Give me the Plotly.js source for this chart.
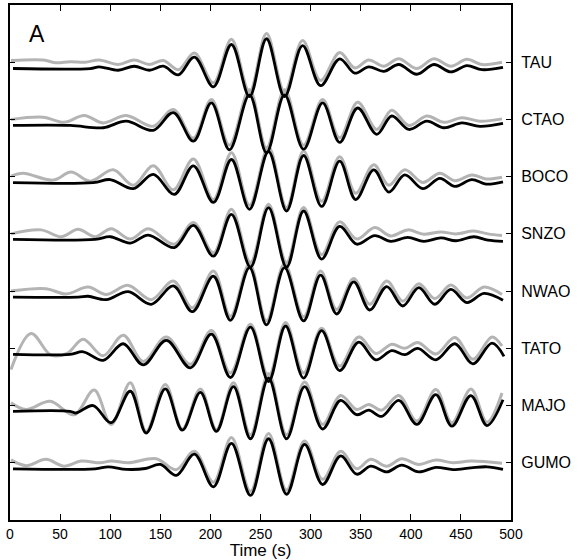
<!DOCTYPE html>
<html>
<head>
<meta charset="utf-8">
<script src="https://cdn.plot.ly/plotly-3.0.1.min.js"></script>
<style>html,body{margin:0;padding:0;background:#fff;}</style>
</head>
<body>
<div id="chart" style="width:581px;height:560px;"></div>
<script>
// Station labels, top to bottom
const stations = ["TAU", "CTAO", "BOCO", "SNZO", "NWAO", "TATO", "MAJO", "GUMO"];
const xTicks = [0, 50, 100, 150, 200, 250, 300, 350, 400, 450, 500];

// Waveform extrema: time (s) and amplitude (trace-spacing units, relative to station tick)
const tauBlackT = [3, 80, 89, 108, 124, 139, 153, 168, 184, 203, 221, 239, 256, 274, 292, 310, 329, 344, 358, 373, 388, 406, 423, 440, 456, 471, 492];
const tauBlackA = [-0.11, -0.11, -0.08, -0.14, -0.07, -0.14, -0.07, -0.22, 0.09, -0.43, 0.31, -0.60, 0.41, -0.60, 0.29, -0.41, 0.06, -0.19, -0.08, -0.16, -0.04, -0.21, -0.04, -0.17, -0.06, -0.13, -0.09];
const tauGrayT = [1, 33, 46, 60, 75, 89, 108, 124, 139, 153, 168, 184, 203, 221, 239, 256, 274, 292, 310, 329, 344, 358, 373, 388, 406, 423, 440, 456, 471, 491];
const tauGrayA = [0.03, 0.04, -0.01, 0.01, 0.0, 0.04, -0.04, 0.04, -0.04, 0.03, -0.13, 0.16, -0.36, 0.40, -0.52, 0.50, -0.52, 0.38, -0.32, 0.17, -0.10, 0.04, -0.07, 0.06, -0.11, 0.06, -0.07, 0.05, -0.04, 0.0];

const ctaoBlackT = [3, 60, 93, 116, 143, 163, 183, 201, 219, 239, 256, 274, 293, 312, 329, 347, 366, 381, 398, 416, 433, 451, 469, 492];
const ctaoBlackA = [-0.105, -0.105, -0.145, -0.03, -0.19, 0.12, -0.38, 0.29, -0.53, 0.43, -0.58, 0.43, -0.52, 0.29, -0.40, 0.20, -0.26, 0.06, -0.175, -0.03, -0.145, -0.06, -0.12, -0.07];
const ctaoGrayT = [1, 33, 54, 74, 93, 116, 143, 163, 183, 201, 219, 239, 256, 274, 293, 312, 329, 347, 366, 381, 398, 416, 433, 451, 469, 491];
const ctaoGrayA = [0.0, 0.04, -0.05, 0.07, -0.06, 0.07, -0.12, 0.175, -0.33, 0.35, -0.45, 0.52, -0.50, 0.52, -0.45, 0.35, -0.32, 0.30, -0.175, 0.16, -0.105, 0.06, -0.05, 0.03, -0.03, 0.01];

const bocoBlackT = [3, 83, 100, 123, 143, 164, 183, 203, 221, 239, 258, 276, 293, 311, 329, 345, 363, 378, 394, 412, 429, 444, 461, 475, 492];
const bocoBlackA = [-0.105, -0.105, -0.05, -0.21, 0.04, -0.31, 0.19, -0.45, 0.30, -0.57, 0.44, -0.60, 0.37, -0.52, 0.27, -0.40, 0.12, -0.27, 0.03, -0.21, -0.03, -0.17, -0.05, -0.13, -0.09];
const bocoGrayT = [1, 13, 43, 61, 80, 103, 123, 143, 163, 183, 203, 221, 239, 258, 276, 293, 311, 329, 345, 363, 378, 394, 412, 429, 444, 461, 475, 491];
const bocoGrayA = [0.01, 0.06, -0.06, 0.08, -0.08, 0.12, -0.15, 0.19, -0.23, 0.31, -0.40, 0.42, -0.50, 0.52, -0.54, 0.45, -0.43, 0.35, -0.29, 0.21, -0.15, 0.12, -0.10, 0.06, -0.07, 0.03, -0.04, -0.01];

const snzoBlackT = [3, 85, 100, 120, 138, 164, 183, 203, 221, 240, 258, 276, 293, 311, 329, 346, 364, 380, 397, 413, 430, 445, 463, 477, 492];
const snzoBlackA = [-0.095, -0.095, -0.05, -0.16, -0.02, -0.24, 0.15, -0.39, 0.34, -0.58, 0.46, -0.58, 0.40, -0.44, 0.13, -0.18, -0.03, -0.13, -0.06, -0.13, -0.07, -0.12, -0.05, -0.11, -0.13];
const snzoGrayT = [1, 31, 51, 68, 85, 101, 120, 138, 164, 183, 203, 221, 240, 258, 276, 293, 311, 329, 346, 364, 380, 397, 413, 430, 445, 463, 477, 491];
const snzoGrayA = [0.0, 0.07, -0.05, 0.08, -0.05, 0.09, -0.09, 0.09, -0.18, 0.20, -0.33, 0.43, -0.50, 0.52, -0.50, 0.46, -0.36, 0.21, -0.09, 0.11, -0.035, 0.07, -0.005, 0.035, 0.0, 0.05, 0.0, -0.03];

const nwaoBlackT = [3, 68, 78, 96, 118, 141, 163, 182, 203, 220, 239, 256, 274, 293, 310, 326, 343, 359, 376, 392, 408, 424, 440, 456, 473, 492];
const nwaoBlackA = [-0.105, -0.105, -0.09, -0.15, -0.01, -0.23, 0.09, -0.36, 0.26, -0.51, 0.41, -0.59, 0.41, -0.52, 0.28, -0.40, 0.16, -0.33, 0.08, -0.26, 0.06, -0.23, 0.03, -0.20, -0.04, -0.16];
const nwaoGrayT = [1, 36, 56, 78, 96, 118, 141, 163, 182, 203, 220, 239, 256, 274, 293, 310, 326, 343, 359, 376, 392, 408, 424, 440, 456, 473, 491];
const nwaoGrayA = [0.0, 0.04, -0.05, 0.07, -0.06, 0.10, -0.15, 0.175, -0.29, 0.35, -0.44, 0.48, -0.52, 0.48, -0.45, 0.35, -0.32, 0.22, -0.23, 0.175, -0.175, 0.13, -0.13, 0.105, -0.12, 0.07, -0.06];

const tatoBlackT = [3, 60, 73, 93, 113, 133, 156, 180, 201, 220, 240, 258, 275, 293, 311, 329, 348, 365, 381, 394, 407, 425, 444, 462, 481, 493];
const tatoBlackA = [-0.105, -0.105, -0.06, -0.21, 0.08, -0.29, 0.14, -0.34, 0.25, -0.51, 0.37, -0.58, 0.39, -0.52, 0.31, -0.39, 0.11, -0.20, -0.04, -0.11, 0.0, -0.20, 0.08, -0.27, 0.09, -0.14];
const tatoGrayT = [1, 21, 41, 57, 73, 93, 113, 133, 156, 180, 201, 220, 240, 258, 275, 293, 311, 329, 348, 365, 381, 394, 407, 425, 444, 462, 481, 491];
const tatoGrayA = [-0.37, 0.26, -0.12, -0.09, 0.16, -0.13, 0.23, -0.23, 0.20, -0.28, 0.31, -0.43, 0.42, -0.50, 0.45, -0.43, 0.35, -0.31, 0.20, -0.09, 0.07, 0.0, 0.10, -0.10, 0.19, -0.19, 0.20, 0.04];

const majoBlackT = [3, 60, 66, 83, 101, 120, 136, 155, 172, 190, 206, 223, 240, 258, 276, 294, 312, 330, 346, 358, 371, 388, 406, 425, 441, 460, 476, 492];
const majoBlackA = [-0.10, -0.10, -0.13, 0.0, -0.30, 0.25, -0.48, 0.29, -0.43, 0.23, -0.45, 0.33, -0.58, 0.48, -0.58, 0.33, -0.41, 0.09, -0.16, -0.08, -0.19, 0.09, -0.33, 0.19, -0.36, 0.175, -0.35, 0.10];
const majoGrayT = [1, 16, 40, 64, 84, 101, 120, 136, 155, 172, 190, 206, 223, 240, 258, 276, 294, 312, 330, 346, 358, 371, 388, 406, 425, 441, 460, 476, 491];
const majoGrayA = [0.05, -0.07, 0.075, -0.16, 0.27, -0.33, 0.40, -0.45, 0.37, -0.41, 0.29, -0.42, 0.40, -0.51, 0.56, -0.51, 0.41, -0.33, 0.175, -0.07, 0.02, -0.08, 0.175, -0.27, 0.28, -0.30, 0.29, -0.29, 0.22];

const gumoBlackT = [3, 85, 98, 116, 135, 150, 166, 184, 203, 221, 240, 258, 276, 294, 312, 330, 346, 360, 376, 391, 408, 425, 442, 460, 476, 492];
const gumoBlackA = [-0.105, -0.105, -0.07, -0.115, -0.10, -0.03, -0.22, 0.15, -0.42, 0.34, -0.57, 0.42, -0.55, 0.32, -0.38, 0.12, -0.20, -0.06, -0.16, -0.04, -0.16, -0.08, -0.12, -0.09, -0.07, -0.115];
const gumoGrayT = [1, 16, 36, 54, 71, 90, 101, 118, 146, 166, 184, 203, 221, 240, 258, 276, 294, 312, 330, 346, 360, 376, 391, 408, 425, 442, 460, 491];
const gumoGrayA = [0.05, -0.05, 0.06, -0.06, 0.03, 0.0, 0.03, 0.0, 0.07, -0.12, 0.20, -0.34, 0.44, -0.50, 0.51, -0.48, 0.38, -0.29, 0.20, -0.105, 0.06, -0.06, 0.07, -0.03, 0.05, 0.0, 0.03, -0.01];

const blackSeries = [
  [tauBlackT, tauBlackA], [ctaoBlackT, ctaoBlackA], [bocoBlackT, bocoBlackA], [snzoBlackT, snzoBlackA],
  [nwaoBlackT, nwaoBlackA], [tatoBlackT, tatoBlackA], [majoBlackT, majoBlackA], [gumoBlackT, gumoBlackA]
];
const graySeries = [
  [tauGrayT, tauGrayA], [ctaoGrayT, ctaoGrayA], [bocoGrayT, bocoGrayA], [snzoGrayT, snzoGrayA],
  [nwaoGrayT, nwaoGrayA], [tatoGrayT, tatoGrayA], [majoGrayT, majoGrayA], [gumoGrayT, gumoGrayA]
];

const n = stations.length;
const offsetOf = i => n - i; // TAU at 8 ... GUMO at 1
const traces = [];
graySeries.forEach(([t, a], i) => {
  traces.push({x: t, y: a.map(v => v + offsetOf(i)), mode: 'lines', type: 'scatter',
    line: {color: '#b4b4b4', width: 3, shape: 'spline', smoothing: 1}, hoverinfo: 'skip', showlegend: false});
});
blackSeries.forEach(([t, a], i) => {
  traces.push({x: t, y: a.map(v => v + offsetOf(i)), mode: 'lines', type: 'scatter',
    line: {color: '#000000', width: 2.8, shape: 'spline', smoothing: 1}, hoverinfo: 'skip', showlegend: false});
});

const font = "'Liberation Sans', Arial, Helvetica, sans-serif";
const layout = {
  width: 581, height: 560,
  margin: {l: 10, r: 70, t: 5, b: 40},
  paper_bgcolor: '#fff', plot_bgcolor: '#fff',
  font: {family: font, color: '#000'},
  showlegend: false,
  xaxis: {
    range: [0, 500], tickvals: xTicks, ticktext: xTicks.map(String),
    ticks: 'inside', ticklen: 6, tickwidth: 1, tickcolor: '#000',
    mirror: 'ticks', showline: true, linecolor: '#000', linewidth: 2,
    showgrid: false, zeroline: false,
    tickfont: {size: 14, family: font},
    title: {text: 'Time (s)', font: {size: 17, family: font}, standoff: 7}
  },
  yaxis: {
    range: [0, 9], side: 'right',
    tickvals: stations.map((s, i) => offsetOf(i)), ticktext: stations,
    ticks: 'inside', ticklen: 5, tickwidth: 1, tickcolor: '#000',
    mirror: 'ticks', showline: true, linecolor: '#000', linewidth: 2,
    showgrid: false, zeroline: false, ticklabelstandoff: 5,
    tickfont: {size: 16, family: font}
  },
  annotations: [{
    text: 'A', xref: 'paper', yref: 'paper', x: 0.053, y: 0.944,
    xanchor: 'center', yanchor: 'middle', showarrow: false,
    font: {size: 23, family: font, color: '#000'}
  }]
};

Plotly.newPlot('chart', traces, layout, {displayModeBar: false, staticPlot: true});
</script>
</body>
</html>
